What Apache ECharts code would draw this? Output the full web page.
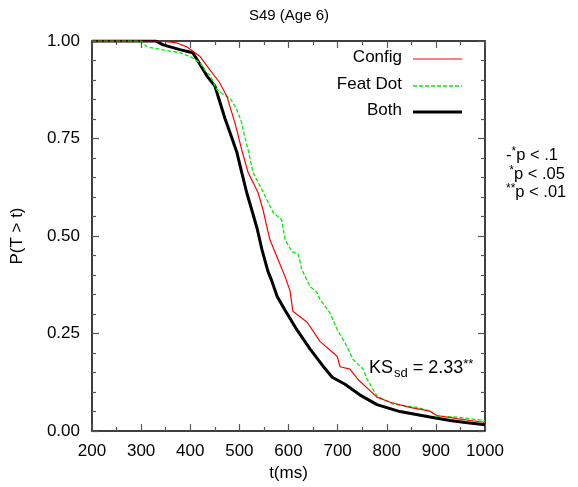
<!DOCTYPE html>
<html><head><meta charset="utf-8">
<script src="https://cdn.jsdelivr.net/npm/echarts@6/dist/echarts.min.js"></script>
<style>html,body{margin:0;padding:0;background:#fff}#c{width:578px;height:487px}</style>
</head><body><div id="c"></div>
<script>
const titleText = "S49 (Age 6)";
const xLabel = "t(ms)";
const yLabel = "P(T > t)";
const seriesNames = ["Config", "Feat Dot", "Both"];

const configT = [200,338,373,393,420,440,460,475,481,491,495,505,518,528,538,548,562,576,593,603,609,638,664,699,705,725,741,780,807,847,888,902,943,1000];
const configS = [1.0,1.0,0.995,0.985,0.96,0.926,0.893,0.857,0.831,0.79,0.77,0.72,0.662,0.637,0.611,0.568,0.491,0.448,0.396,0.36,0.307,0.279,0.23,0.192,0.165,0.159,0.133,0.087,0.074,0.061,0.051,0.04,0.032,0.022];

const featT = [200,300,312,345,379,400,413,420,434,440,454,460,475,481,495,505,508,518,528,546,556,566,569,586,593,607,620,627,644,658,664,684,699,719,731,752,760,780,813,862,888,902,943,1000];
const featS = [1.0,1.0,0.985,0.977,0.97,0.96,0.95,0.944,0.918,0.913,0.875,0.87,0.857,0.854,0.824,0.79,0.77,0.72,0.662,0.619,0.593,0.568,0.56,0.542,0.491,0.46,0.453,0.414,0.371,0.355,0.338,0.304,0.261,0.217,0.184,0.159,0.133,0.09,0.069,0.061,0.051,0.038,0.036,0.027];

const bothT = [200,330,345,379,405,420,434,450,460,471,481,495,505,515,525,536,546,558,566,577,593,617,644,670,689,715,745,780,827,888,929,960,1000];
const bothS = [1.0,1.0,0.99,0.978,0.97,0.94,0.91,0.885,0.845,0.80,0.765,0.714,0.662,0.611,0.568,0.52,0.465,0.41,0.385,0.345,0.31,0.26,0.21,0.167,0.138,0.12,0.093,0.068,0.05,0.036,0.027,0.022,0.016];

const xTicks = {min:200, max:1000, step:100};
const yTicks = {min:0, max:1, step:0.25};

function zip(t,s){return t.map((v,i)=>[v,s[i]]);}

const FONT = "Liberation Sans";
const GREEN = '#00ee00';
const chart = echarts.init(document.getElementById('c'), null, {renderer:'canvas'});
const axisLine = {show:true, onZero:false, lineStyle:{color:'#000', width:1.5}};
const baseX = {type:'value', min:xTicks.min, max:xTicks.max, interval:xTicks.step, splitLine:{show:false}, axisLine:axisLine,
  axisTick:{show:true, inside:true, length:7, lineStyle:{color:'#555', width:1.2}},
  minorTick:{show:true, splitNumber:2, length:4, lineStyle:{color:'#555', width:1.2}}};
const baseY = {type:'value', min:yTicks.min, max:yTicks.max, interval:yTicks.step, splitLine:{show:false}, axisLine:axisLine,
  axisTick:{show:true, inside:true, length:7, lineStyle:{color:'#555', width:1.2}},
  minorTick:{show:true, splitNumber:5, length:4, lineStyle:{color:'#555', width:1.2}}};

chart.setOption({
  animation:false,
  textStyle:{fontFamily:FONT},
  title:{text:titleText, left:'center', top:3, textStyle:{fontFamily:FONT, fontSize:15, fontWeight:'normal', color:'#000'}},
  grid:{left:92, right:93, top:41, bottom:55},
  xAxis:[
    Object.assign({}, baseX, {position:'bottom', name:xLabel, nameLocation:'middle', nameGap:30,
      nameTextStyle:{fontFamily:FONT, fontSize:17, color:'#000'},
      axisLabel:{fontFamily:FONT, fontSize:17, color:'#000', margin:12, formatter:v=>String(v)}}),
    Object.assign({}, baseX, {position:'top', axisLabel:{show:false}})
  ],
  yAxis:[
    Object.assign({}, baseY, {position:'left', name:yLabel, nameLocation:'middle', nameGap:66, nameRotate:90,
      nameTextStyle:{fontFamily:FONT, fontSize:17, color:'#000'},
      axisLabel:{fontFamily:FONT, fontSize:17, color:'#000', margin:12, formatter:v=>v.toFixed(2)}}),
    Object.assign({}, baseY, {position:'right', axisLabel:{show:false}})
  ],
  series:[
    {name:seriesNames[0], type:'line', data:zip(configT,configS), showSymbol:false, symbol:'none',
      lineStyle:{color:'#ff0000', width:1.2}, z:3},
    {name:seriesNames[1], type:'line', data:zip(featT,featS), showSymbol:false, symbol:'none',
      lineStyle:{color:GREEN, width:1.3, type:[4,2]}, z:2},
    {name:seriesNames[2], type:'line', data:zip(bothT,bothS), showSymbol:false, symbol:'none',
      lineStyle:{color:'#000', width:3}, z:1}
  ],
  graphic:[
    {type:'text', right:176, top:49, style:{text:seriesNames[0], font:'17px '+FONT, fill:'#000'}},
    {type:'line', shape:{x1:413,y1:59,x2:462,y2:59}, style:{stroke:'#ff0000', lineWidth:1.2}},
    {type:'text', right:176, top:76, style:{text:seriesNames[1], font:'17px '+FONT, fill:'#000'}},
    {type:'line', shape:{x1:413,y1:86,x2:462,y2:86}, style:{stroke:GREEN, lineWidth:1.3, lineDash:[4,2]}},
    {type:'text', right:176, top:102, style:{text:seriesNames[2], font:'17px '+FONT, fill:'#000'}},
    {type:'line', shape:{x1:413,y1:112,x2:462,y2:112}, style:{stroke:'#000', lineWidth:3}},
    {type:'text', left:369, top:358, style:{
      text:'{a|KS}{s|sd}{a| = 2.33}{p|**}',
      rich:{a:{fontSize:18, fontFamily:FONT, fill:'#000', verticalAlign:'bottom', height:24},
            s:{fontSize:13, fontFamily:FONT, fill:'#000', padding:[8,0,0,1], verticalAlign:'bottom'},
            p:{fontSize:13, fontFamily:FONT, fill:'#000', padding:[0,0,9,0], verticalAlign:'bottom'}}}},
    {type:'text', left:506, top:146, style:{
      text:'{a|-}{p|*}{a|p < .1}\n {p|*}{a|p < .05}\n{p|**}{a|p < .01}',
      rich:{a:{fontSize:16.5, fontFamily:FONT, fill:'#000', lineHeight:18.5, verticalAlign:'bottom'},
            p:{fontSize:12, fontFamily:FONT, fill:'#000', lineHeight:18.5, padding:[0,0,6,0], verticalAlign:'bottom'}}}}
  ]
});
</script></body></html>
